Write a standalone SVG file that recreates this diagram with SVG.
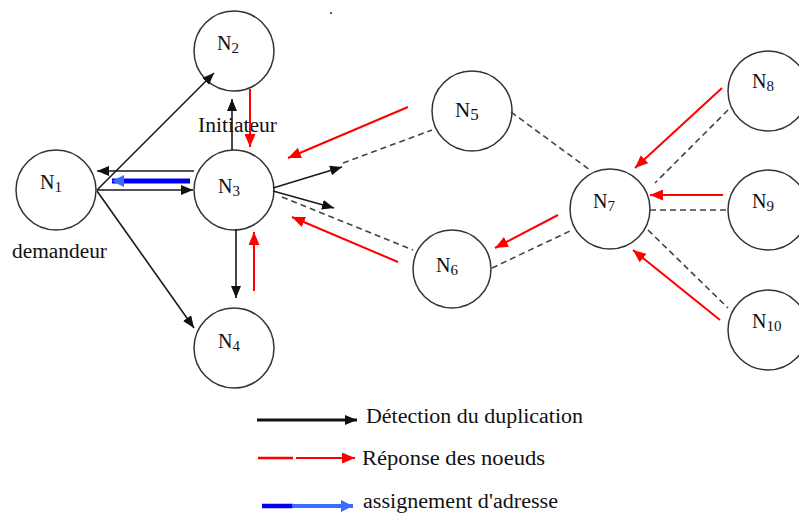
<svg xmlns="http://www.w3.org/2000/svg" width="799" height="514" viewBox="0 0 799 514">
  <style>
    .node circle { fill: #ffffff; stroke: #333333; stroke-width: 1.5; }
    .lbl { font-family: "Liberation Serif", "Times New Roman", serif; font-size: 20px; fill: #111111; }
    .sub { font-size: 15px; }
    .txt { font-family: "Liberation Serif", "Times New Roman", serif; font-size: 20px; fill: #111111; }
    .blk { stroke: #1a1a1a; stroke-width: 1.6; fill: none; marker-end: url(#hBlack); }
    .red { stroke: #ff0000; stroke-width: 2; fill: none; marker-end: url(#hRed); }
    .dash { stroke: #444444; stroke-width: 1.6; stroke-dasharray: 6 4; fill: none; }
  </style>
  <defs>
    <marker id="hBlack" markerUnits="userSpaceOnUse" markerWidth="12" markerHeight="10" refX="12" refY="5" orient="auto">
      <path d="M0,0 L12,5 L0,10 z" fill="#111111"/>
    </marker>
    <marker id="hRed" markerUnits="userSpaceOnUse" markerWidth="13" markerHeight="11" refX="13" refY="5.5" orient="auto">
      <path d="M0,0 L13,5.5 L0,11 z" fill="#ff0000"/>
    </marker>
    <marker id="hBlue" markerUnits="userSpaceOnUse" markerWidth="12" markerHeight="12" refX="12" refY="6" orient="auto">
      <path d="M0,0 L12,6 L0,12 z" fill="#3a6cff"/>
    </marker>
  </defs>

  <rect width="799" height="514" fill="#ffffff"/>
  <rect x="330" y="12" width="2" height="2" fill="#555555"/>

  <!-- nodes -->
  <g id="N1" class="node"><circle cx="56" cy="190" r="40"/><text class="lbl" x="40" y="189">N<tspan class="sub" dy="3">1</tspan></text></g>
  <g id="N2" class="node"><circle cx="234" cy="51" r="40"/><text class="lbl" x="217" y="50">N<tspan class="sub" dy="3">2</tspan></text></g>
  <g id="N3" class="node"><circle cx="234" cy="190" r="40"/><text class="lbl" x="218" y="193">N<tspan class="sub" dy="3">3</tspan></text></g>
  <g id="N4" class="node"><circle cx="234" cy="348" r="40"/><text class="lbl" x="218" y="348">N<tspan class="sub" dy="3">4</tspan></text></g>
  <g id="N5" class="node"><circle cx="472" cy="111" r="40"/><text class="lbl" x="455" y="117" style="font-size:21px">N<tspan class="sub" dy="3" style="font-size:17px">5</tspan></text></g>
  <g id="N6" class="node"><circle cx="452" cy="269" r="39"/><text class="lbl" x="436" y="272">N<tspan class="sub" dy="3">6</tspan></text></g>
  <g id="N7" class="node"><circle cx="610" cy="209" r="40"/><text class="lbl" x="593" y="208">N<tspan class="sub" dy="3">7</tspan></text></g>
  <g id="N8" class="node"><circle cx="768" cy="91" r="40"/><text class="lbl" x="752" y="88">N<tspan class="sub" dy="3">8</tspan></text></g>
  <g id="N9" class="node"><circle cx="768" cy="210" r="40"/><text class="lbl" x="752" y="208">N<tspan class="sub" dy="3">9</tspan></text></g>
  <g id="N10" class="node"><circle cx="768" cy="330" r="40"/><text class="lbl" x="752" y="328">N<tspan class="sub" dy="3">10</tspan></text></g>

  <!-- role labels -->
  <text class="txt" x="198" y="132" textLength="79" lengthAdjust="spacingAndGlyphs">Initiateur</text>
  <text class="txt" x="12" y="258" textLength="95" lengthAdjust="spacingAndGlyphs">demandeur</text>

  <!-- connectors -->
  <g id="connectors">
    <!-- dashed links -->
    <line class="dash" x1="343" y1="163" x2="432" y2="130"/>
    <line class="dash" x1="282" y1="197" x2="413" y2="250"/>
    <line class="dash" x1="511" y1="112" x2="590" y2="170"/>
    <line class="dash" x1="492" y1="268" x2="570" y2="231"/>
    <line class="dash" x1="728" y1="110" x2="655" y2="183"/>
    <line class="dash" x1="650" y1="210" x2="728" y2="210"/>
    <line class="dash" x1="648" y1="230" x2="728" y2="308"/>

    <!-- duplicate detection -->
    <line class="blk" x1="97" y1="190" x2="214" y2="73"/>
    <line class="blk" x1="194" y1="171" x2="97" y2="171"/>
    <line class="blk" x1="97" y1="190" x2="193" y2="190"/>
    <line class="blk" x1="97" y1="191" x2="194" y2="328"/>
    <line class="blk" x1="232" y1="150" x2="232" y2="99"/>
    <line class="blk" x1="236" y1="229" x2="236" y2="298"/>
    <line class="blk" x1="273" y1="188" x2="342" y2="167"/>
    <line class="blk" x1="273" y1="191" x2="334" y2="208"/>

    <!-- node replies -->
    <line class="red" x1="250" y1="89" x2="250" y2="147"/>
    <line class="red" x1="254" y1="291" x2="254" y2="232"/>
    <line class="red" x1="408" y1="107" x2="288" y2="158"/>
    <line class="red" x1="398" y1="262" x2="292" y2="217"/>
    <line class="red" x1="558" y1="215" x2="495" y2="248"/>
    <line class="red" x1="722" y1="88" x2="635" y2="168"/>
    <line class="red" x1="723" y1="195" x2="650" y2="195"/>
    <line class="red" x1="720" y1="320" x2="633" y2="250"/>

    <!-- address assignment -->
    <line x1="190" y1="181" x2="112" y2="181" stroke="#0000ee" stroke-width="5" marker-end="url(#hBlue)"/>
  </g>

  <!-- legend -->
  <g id="legend">
    <line x1="257" y1="420" x2="357" y2="420" stroke="#111111" stroke-width="3" marker-end="url(#hBlack)"/>
    <text class="txt" x="366" y="423" textLength="217" lengthAdjust="spacingAndGlyphs">Détection du duplication</text>

    <line x1="258" y1="458" x2="293" y2="458" stroke="#ff0000" stroke-width="2.5"/>
    <line x1="296" y1="458" x2="355" y2="458" stroke="#ff0000" stroke-width="2" marker-end="url(#hRed)"/>
    <text class="txt" x="362" y="465" textLength="183" lengthAdjust="spacingAndGlyphs">Réponse des noeuds</text>

    <line x1="262" y1="506" x2="293" y2="506" stroke="#0000ee" stroke-width="4.5"/>
    <line x1="292" y1="506" x2="353" y2="506" stroke="#3a6cff" stroke-width="4" marker-end="url(#hBlue)"/>
    <text class="txt" x="363" y="508" textLength="195" lengthAdjust="spacingAndGlyphs">assignement d'adresse</text>
  </g>
</svg>
